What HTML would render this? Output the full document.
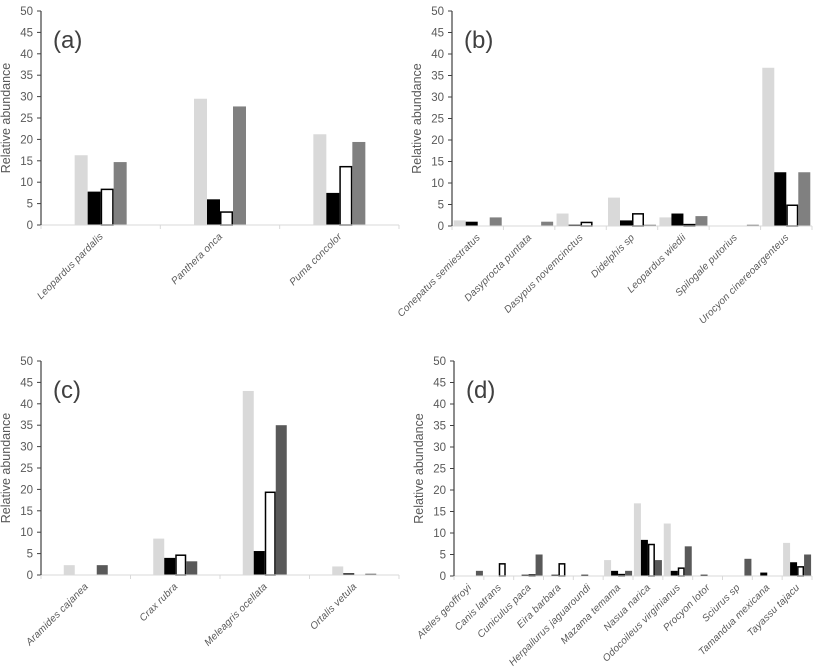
<!DOCTYPE html>
<html><head><meta charset="utf-8"><style>
html,body{margin:0;padding:0;background:#fff;}
svg{display:block;font-family:"Liberation Sans",sans-serif;}
</style></head><body>
<svg id="chart" width="818" height="668" viewBox="0 0 818 668" xmlns="http://www.w3.org/2000/svg"></svg>
<script>
const catsA = ["Leopardus pardalis","Panthera onca","Puma concolor"];
const s1A = [16.3,29.5,21.2];
const s2A = [7.8,6,7.5];
const s3A = [8.5,3.2,13.8];
const s4A = [14.7,27.7,19.4];

const catsB = ["Conepatus semiestratus","Dasyprocta puntata","Dasypus novemcinctus","Didelphis sp","Leopardus wiedii","Spilogale putorius","Urocyon cinereoargenteus"];
const s1B = [1.3,0,2.9,6.6,2,0,36.8];
const s2B = [1,0,0.3,1.3,2.9,0,12.5];
const s3B = [0,0,1,3,0.5,0,5];
const s4B = [2,1,0,0.3,2.3,0.3,12.5];

const catsC = ["Aramides cajanea","Crax rubra","Meleagris ocellata","Ortalis vetula"];
const s1C = [2.3,8.5,43,2];
const s2C = [0,4,5.6,0.4];
const s3C = [0,4.8,19.5,0];
const s4C = [2.3,3.2,35,0.3];

const catsD = ["Ateles geoffroyi","Canis latrans","Cuniculus paca","Eira barbara","Herpailurus jaguaroundi","Mazama temama","Nasua narica","Odocoileus virginianus","Procyon lotor","Sciurus sp","Tamandua mexicana","Tayassu tajacu"];
const s1D = [0,0,0,0,0,3.7,16.9,12.2,0,0,0,7.7];
const s2D = [0,0,0.3,0.3,0.3,1.2,8.4,1.2,0.3,0,0.8,3.2];
const s3D = [0,3,0.4,3,0,0.5,7.5,2,0,0,0,2.3];
const s4D = [1.2,0,5,0,0,1.2,3.7,6.9,0,4,0,5];

const yTicks = [0,5,10,15,20,25,30,35,40,45,50];

const NS = "http://www.w3.org/2000/svg";
const svg = document.getElementById("chart");
function mk(tag, attrs, parent){
  const e = document.createElementNS(NS, tag);
  for (const k in attrs) e.setAttribute(k, attrs[k]);
  (parent||svg).appendChild(e);
  return e;
}

function panel(id, letter, x0, x1, yTop, yBot, cats, series, darkColor, bw){
  const g = mk("g", {});
  
  
  const yScale = v => yBot - (v/50)*(yBot-yTop);
  const cw = (x1-x0)/cats.length;
  const xScale = i => x0 + cw*i + cw/2;
  yTicks.forEach(t => {
    const y = yScale(t);
    const tk = mk("line", {x1:x0-4, x2:x0, y1:y, y2:y, stroke:"#404040", "stroke-width":1}, g);
    
    
    const tl = mk("text", {x:x0-8, y:y+4, "text-anchor":"end", "font-size":"11.5", fill:"#595959"}, g);
    tl.textContent = t;
    
    
  });
  const yt = mk("text", {x:0, y:0, transform:"translate("+(x0-31)+","+((yTop+yBot)/2)+") rotate(-90)", "text-anchor":"middle", "font-size":"12.5", fill:"#595959"}, g);
  yt.textContent = "Relative abundance";
  
  
  const fills = ["#d9d9d9","#000000","#ffffff",darkColor];
  const names = ["light","black","white","dark"];
  cats.forEach((c,i) => {
    const cx = xScale(i);
    series.forEach((s,k) => {
      const v = s[i];
      if (v <= 0) return;
      const bx = cx - 2*bw + k*bw;
      const y = yScale(v);
      const attrs = {x:bx, y:y, width:bw, height:yBot-y, fill:fills[k]};
      if (k===2){ attrs.stroke="#000"; attrs["stroke-width"]=1.5; attrs.x=bx+0.75; attrs.width=bw-1.5; attrs.y=y+0.75; attrs.height=Math.max(0,yBot-y-0.75);}
      const r = mk("rect", attrs, g);
      
      
    });
    const lb = mk("text", {x:0, y:0, transform:"translate("+(cx+3)+","+(yBot+12)+") rotate(-45)", "text-anchor":"end", "font-size":"10", "letter-spacing":"0.2", "font-style":"italic", fill:"#595959"}, g);
    lb.textContent = c;
    
    
  });
  const xa = mk("line", {x1:x0, x2:x1, y1:yBot, y2:yBot, stroke:"#d9d9d9", "stroke-width":1}, g);
  
  
  for (let i=0;i<=cats.length;i++){
    const xx = x0 + cw*i;
    const t = mk("line", {x1:xx, x2:xx, y1:yBot, y2:yBot+4, stroke:"#d9d9d9", "stroke-width":1}, g);
    
    
  }
  const ya = mk("line", {x1:x0, x2:x0, y1:yTop, y2:yBot, stroke:"#404040", "stroke-width":1.2}, g);
  
  
  const pl = mk("text", {x:x0+12, y:yTop+37, "font-size":"24", fill:"#404040"}, g);
  pl.textContent = "(" + letter + ")";
  
  
}

panel("a","a",41,399,11,225,catsA,[s1A,s2A,s3A,s4A],"#808080",13);
panel("b","b",452,812,11,226,catsB,[s1B,s2B,s3B,s4B],"#808080",12);
panel("c","c",41,399,361,575,catsC,[s1C,s2C,s3C,s4C],"#595959",11);
panel("d","d",454,812,361,576,catsD,[s1D,s2D,s3D,s4D],"#595959",7);
</script>
</body></html>
